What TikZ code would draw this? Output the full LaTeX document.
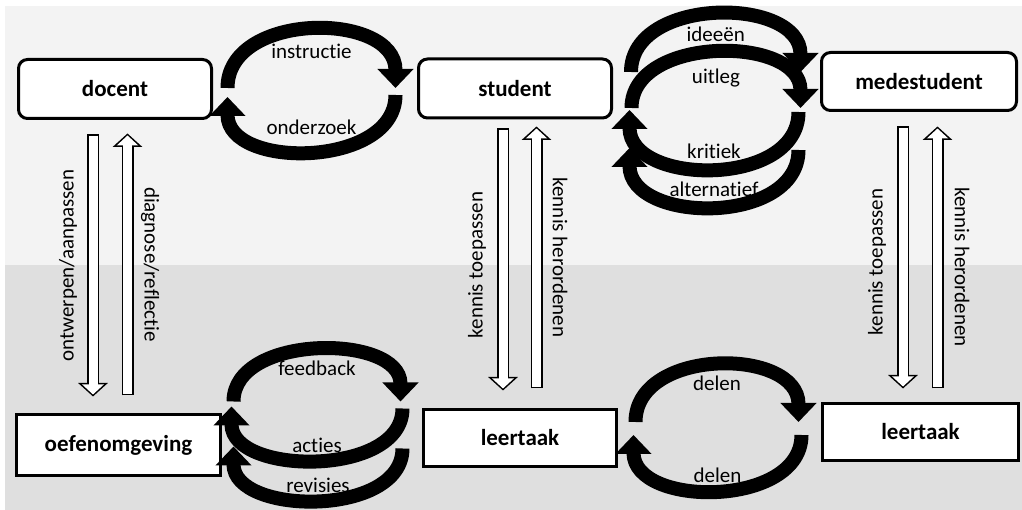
\documentclass[tikz,border=0pt]{standalone}
\usepackage{fontspec}
\setmainfont{Carlito}[Ligatures={NoCommon,NoRare}]
\usepackage{tikz}
\usetikzlibrary{arrows.meta, positioning}

\definecolor{lichtgrijs}{RGB}{243,243,243}
\definecolor{grijs}{RGB}{223,223,223}

\begin{document}
\begin{tikzpicture}[x=1pt,y=1pt,
  rol/.style={draw, line width=3pt, rounded corners=9pt, fill=white, minimum width=193pt, minimum height=59pt, font=\fontsize{23}{27}\selectfont\bfseries},
  taak/.style={draw, line width=3pt, fill=white, minimum width=193pt, minimum height=57pt, font=\fontsize{23}{27}\selectfont\bfseries},
  lus/.style={line width=14pt, -{Triangle[width=35pt,length=19pt]}},
  etiket/.style={text=black, font=\fontsize{21}{25}\selectfont},
  hol/.style={draw=white, line width=9pt, shorten >=2pt, shorten <=1.5pt, -{Triangle[width=21pt,length=10pt]},
    preaction={draw=black, line width=12pt, shorten >=0pt, shorten <=0pt, -{Triangle[width=29pt,length=13.5pt]}}}]

\fill[white] (0,0) rectangle (1022,510);
\fill[lichtgrijs] (5,245) rectangle (1022,504);%le fond
\fill[grijs] (5,0) rectangle (1022,245);
\useasboundingbox (0,0) rectangle (1022,510);

\node[rol] (docent) at (115,421) {docent};%les boites
\node[rol] (student) at (515,421.5) {student};
\node[rol, minimum width=195pt, minimum height=58pt] (medestudent) at (919,428.5) {medestudent};
\node[taak, minimum width=204pt, minimum height=61pt] (oefenomgeving) at (118.5,65) {oefenomgeving};
\node[taak] (leertaak) at (520,72) {leertaak};
\node[taak, minimum width=196pt] (leertaakB) at (920.5,78) {leertaak};

% docent - student
\draw[lus] ([xshift=14.5pt,yshift=1pt]docent.east) to[out=90,in=90,distance=77pt] node[etiket,yshift=-21.5pt]{instructie} ([xshift=-21.5pt,yshift=0.5pt]student.west);
\draw[lus] ([xshift=-21.5pt,yshift=-6.5pt]student.west) to[out=-90,in=-90,distance=73pt] node[etiket,yshift=23.5pt]{onderzoek} ([xshift=14.5pt,yshift=-8pt]docent.east);

% student - medestudent
\draw[lus] ([xshift=18pt,yshift=16.5pt]student.east) to[out=90,in=90,distance=76pt] node[etiket,yshift=-19.5pt]{ideeën} ([xshift=-19.5pt,yshift=9.5pt]medestudent.west);
\draw[lus] ([xshift=18.5pt,yshift=-19.5pt]student.east) to[out=90,in=90,distance=73pt] node[etiket,yshift=-25pt]{uitleg} ([xshift=-19.5pt,yshift=-26.5pt]medestudent.west);
\draw[lus] ([xshift=-21.5pt,yshift=-30.5pt]medestudent.west) to[out=-90,in=-90,distance=76pt] node[etiket,yshift=17pt]{kritiek} ([xshift=16.5pt,yshift=-21.5pt]student.east);
\draw[lus] ([xshift=-21.5pt,yshift=-68.5pt]medestudent.west) to[out=-90,in=-90,distance=76pt] node[etiket,yshift=17pt]{alternatief} ([xshift=16.5pt,yshift=-59.5pt]student.east);

% oefenomgeving - leertaak
\draw[lus] ([xshift=11.5pt,yshift=11.5pt]oefenomgeving.north east) to[out=90,in=90,distance=68pt] node[etiket,yshift=-18pt]{feedback} ([xshift=-21.5pt,yshift=6.5pt]leertaak.north west);
\draw[lus] ([xshift=-19.5pt,yshift=-0.5pt]leertaak.north west) to[out=-90,in=-90,distance=69pt] node[etiket,yshift=13.5pt]{acties} ([xshift=9.5pt,yshift=6.5pt]oefenomgeving.north east);
\draw[lus] ([xshift=-19.5pt,yshift=-40.5pt]leertaak.north west) to[out=-90,in=-90,distance=69pt] node[etiket,yshift=13.5pt]{revisies} ([xshift=11.5pt,yshift=-33.5pt]oefenomgeving.north east);

% leertaak - leertaak
\draw[lus] ([xshift=17.5pt,yshift=16pt]leertaak.east) to[out=90,in=90,distance=75pt] node[etiket,yshift=-17.5pt]{delen} ([xshift=-22.5pt,yshift=10pt]leertaakB.west);
\draw[lus] ([xshift=-19.5pt,yshift=-3pt]leertaakB.west) to[out=-90,in=-90,distance=73pt] node[etiket,yshift=14.5pt]{delen} ([xshift=15.5pt,yshift=3pt]leertaak.east);

% les fleches creuses
\draw[hol] ([xshift=-22pt,yshift=-14.5pt]docent.south) -- node[etiket,xshift=-25pt,rotate=90]{ontwerpen/aanpassen} ([xshift=-25.5pt,yshift=16.5pt]oefenomgeving.north);
\draw[hol] ([xshift=9pt,yshift=17.5pt]oefenomgeving.north) -- node[etiket,xshift=22.5pt,rotate=-90]{diagnose/reflectie} ([xshift=12.5pt,yshift=-13.5pt]docent.south);
\draw[hol] ([xshift=-12pt,yshift=-9pt]student.south) -- node[etiket,xshift=-26pt,yshift=-5.5pt,rotate=90]{kennis toepassen} ([xshift=-17pt,yshift=17.5pt]leertaak.north);
\draw[hol] ([xshift=16.5pt,yshift=19.5pt]leertaak.north) -- node[etiket,xshift=23.5pt,rotate=-90]{kennis herordenen} ([xshift=21.5pt,yshift=-7pt]student.south);
\draw[hol] ([xshift=-16pt,yshift=-14.5pt]medestudent.south) -- node[etiket,xshift=-26pt,yshift=-4.5pt,rotate=90]{kennis toepassen} ([xshift=-17.5pt,yshift=13.5pt]leertaakB.north);
\draw[hol] ([xshift=17pt,yshift=13.5pt]leertaakB.north) -- node[etiket,xshift=24.5pt,yshift=-9.5pt,rotate=-90]{kennis herordenen} ([xshift=18.5pt,yshift=-14.5pt]medestudent.south);
\end{tikzpicture}
\end{document}
